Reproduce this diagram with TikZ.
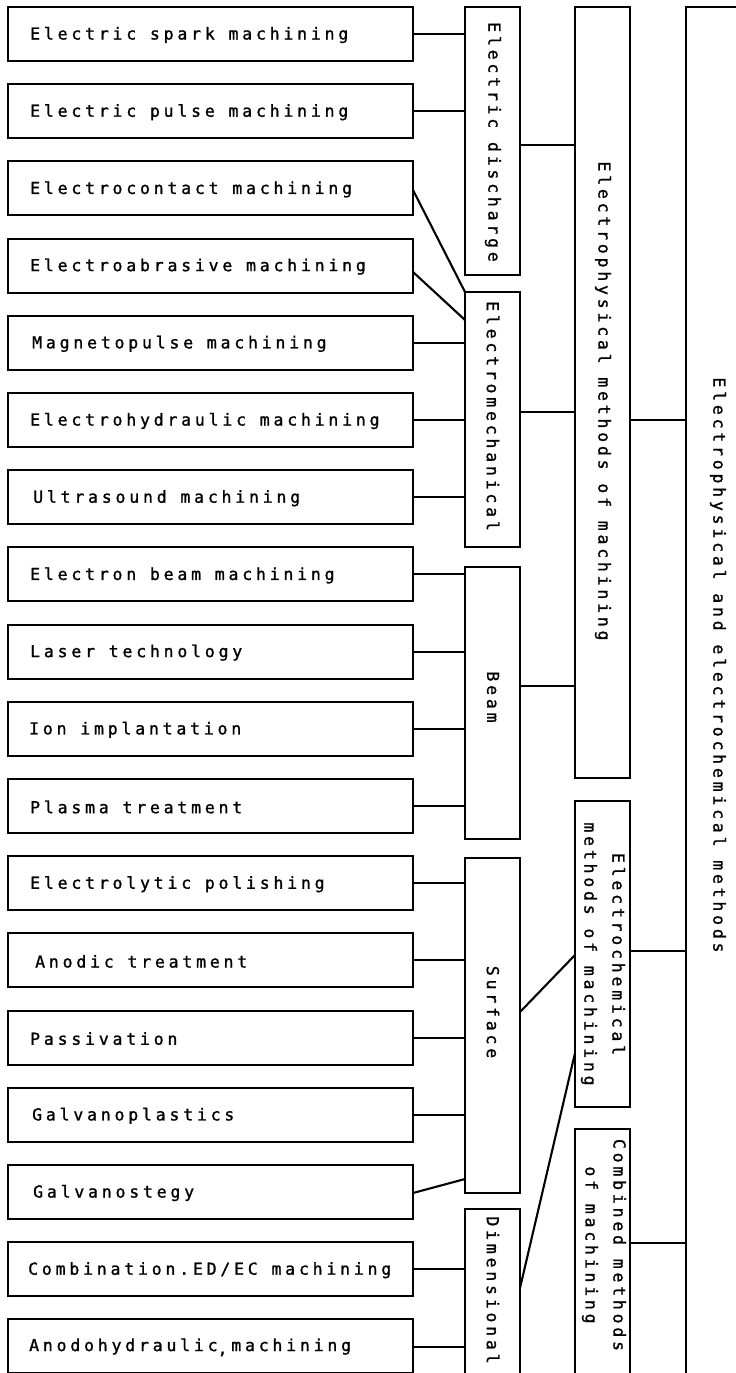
\documentclass[tikz,border=0pt]{standalone}
\usepackage{fontspec}
\newfontfamily\plotfont[LetterSpace=23,FakeBold=1.2]{DejaVu Sans Mono}
\usetikzlibrary{calc}
\begin{document}
\begin{tikzpicture}[x=1pt,y=-1pt,
  box/.style={draw, line width=2.1pt, inner sep=0pt, outer sep=0pt, anchor=north west},
  lbox/.style={box, minimum width=405pt, minimum height=54pt},
  mbox/.style={box, minimum width=55pt},
  ltext/.style={anchor=west, inner sep=0pt, font=\plotfont\fontsize{16.5pt}{28pt}\selectfont},
  vtext/.style={rotate=-90, inner sep=0pt, align=center, font=\plotfont\fontsize{16.5pt}{28pt}\selectfont},
  conn/.style={line width=2.1pt}]
\useasboundingbox (0,0) rectangle (736,1373);
\clip (0,0) rectangle (736,1373);
\fill[white] (0,0) rectangle (736,1373);
% left boxes
\node[lbox] (b1)  at (8,7)      {};
\node[lbox] (b2)  at (8,84.2)   {};
\node[lbox] (b3)  at (8,161.4)  {};
\node[lbox] (b4)  at (8,238.6)  {};
\node[lbox] (b5)  at (8,315.8)  {};
\node[lbox] (b6)  at (8,393)    {};
\node[lbox] (b7)  at (8,470.2)  {};
\node[lbox] (b8)  at (8,547.4)  {};
\node[lbox] (b9)  at (8,624.6)  {};
\node[lbox] (b10) at (8,701.8)  {};
\node[lbox] (b11) at (8,779)    {};
\node[lbox] (b12) at (8,856.2)  {};
\node[lbox] (b13) at (8,933.4)  {};
\node[lbox] (b14) at (8,1010.6) {};
\node[lbox] (b15) at (8,1087.8) {};
\node[lbox] (b16) at (8,1165)   {};
\node[lbox] (b17) at (8,1242.2) {};
\node[lbox] (b18) at (8,1319.4) {};
% left texts
\node[ltext] (t1)  at ([xshift=22pt,yshift=-1pt]b1.west)  {Electric spark machining};
\node[ltext] (t2)  at ([xshift=22pt,yshift=-1pt]b2.west)  {Electric pulse machining};
\node[ltext] (t3)  at ([xshift=22pt,yshift=-1pt]b3.west)  {Electrocontact machining};
\node[ltext] (t4)  at ([xshift=22pt,yshift=-1pt]b4.west)  {Electroabrasive machining};
\node[ltext] (t5)  at ([xshift=24pt,yshift=-1pt]b5.west)  {Magnetopulse machining};
\node[ltext] (t6)  at ([xshift=22pt,yshift=-1pt]b6.west)  {Electrohydraulic machining};
\node[ltext] (t7)  at ([xshift=25pt,yshift=-1pt]b7.west)  {Ultrasound machining};
\node[ltext] (t8)  at ([xshift=22pt,yshift=-1pt]b8.west)  {Electron beam machining};
\node[ltext] (t9)  at ([xshift=22pt,yshift=-1pt]b9.west)  {Laser technology};
\node[ltext] (t10) at ([xshift=21pt,yshift=-1pt]b10.west) {Ion implantation};
\node[ltext] (t11) at ([xshift=22pt,yshift=-1pt]b11.west) {Plasma treatment};
\node[ltext] (t12) at ([xshift=22pt,yshift=-1pt]b12.west) {Electrolytic polishing};
\node[ltext] (t13) at ([xshift=27pt,yshift=-1pt]b13.west) {Anodic treatment};
\node[ltext] (t14) at ([xshift=22pt,yshift=-1pt]b14.west) {Passivation};
\node[ltext] (t15) at ([xshift=24pt,yshift=-1pt]b15.west) {Galvanoplastics};
\node[ltext] (t16) at ([xshift=25pt,yshift=-1pt]b16.west) {Galvanostegy};
\node[ltext] (t17) at ([xshift=20pt,yshift=-1pt]b17.west) {Combination.ED/EC machining};
\node[ltext] (t18) at ([xshift=21pt,yshift=-1pt]b18.west) {Anodohydraulic\rlap{\raisebox{-3pt}{,}} machining};
% level 2 boxes
\node[mbox, minimum height=268pt] (ed)   at (465,7)    {};
\node[mbox, minimum height=255pt] (em)   at (465,292)  {};
\node[mbox, minimum height=272pt] (beam) at (465,567)  {};
\node[mbox, minimum height=335pt] (surf) at (465,858)  {};
\node[mbox, minimum height=200pt] (dim)  at (465,1209) {};
\node[vtext] (ted)   at (493,142)  {Electric discharge};
\node[vtext] (tem)   at (493,416)  {Electromechanical};
\node[vtext] (tbeam) at (493,697)  {Beam};
\node[vtext] (tsurf) at (493,1012) {Surface};
\node[vtext] (tdim)  at (493,1290) {Dimensional};
% level 3 boxes
\node[mbox, minimum height=771pt] (ep)   at (575,7)    {};
\node[mbox, minimum height=306pt] (ec)   at (575,801)  {};
\node[mbox, minimum height=280pt] (comb) at (575,1129) {};
\node[vtext] (tep)   at (603,401)  {Electrophysical methods of machining};
\node[vtext] (tec)   at (603,954)  {Electrochemical\\methods of machining};
\node[vtext] (tcomb) at (604,1245) {Combined methods\\of machining};
% level 4 box
\node[box, minimum width=80pt, minimum height=1400pt] (all) at (686,7) {};
\node[vtext] (tall) at (718,665) {Electrophysical and electrochemical methods};
% connectors left -> level 2
\draw[conn] (b1.east) -- (b1.east -| ed.west);
\draw[conn] (b2.east) -- (b2.east -| ed.west);
\draw[conn] (b3.east |- 0,190) -- (em.north west);
\draw[conn] (b4.east |- 0,272) -- (em.west |- 0,320);
\draw[conn] (b5.east) -- (b5.east -| em.west);
\draw[conn] (b6.east) -- (b6.east -| em.west);
\draw[conn] (b7.east) -- (b7.east -| em.west);
\draw[conn] (b8.east) -- (b8.east -| beam.west);
\draw[conn] (b9.east) -- (b9.east -| beam.west);
\draw[conn] (b10.east) -- (b10.east -| beam.west);
\draw[conn] (b11.east) -- (b11.east -| beam.west);
\draw[conn] (b12.east) -- (b12.east -| surf.west);
\draw[conn] (b13.east) -- (b13.east -| surf.west);
\draw[conn] (b14.east) -- (b14.east -| surf.west);
\draw[conn] (b15.east) -- (b15.east -| surf.west);
\draw[conn] (b16.east |- 0,1193) -- (surf.west |- 0,1179);
\draw[conn] (b17.east) -- (b17.east -| dim.west);
\draw[conn] (b18.east |- 0,1347) -- (dim.west |- 0,1347);
% level 2 -> level 3
\draw[conn] (ed.east |- 0,145) -- (ep.west |- 0,145);
\draw[conn] (em.east |- 0,412) -- (ep.west |- 0,412);
\draw[conn] (beam.east |- 0,686) -- (ep.west |- 0,686);
\draw[conn] (surf.east |- 0,1012) -- (ec.west |- 0,955);
\draw[conn] (dim.east |- 0,1288) -- (ec.west |- 0,1053);
% level 3 -> level 4
\draw[conn] (ep.east |- 0,420) -- (all.west |- 0,420);
\draw[conn] (ec.east |- 0,951) -- (all.west |- 0,951);
\draw[conn] (comb.east |- 0,1243) -- (all.west |- 0,1243);
\end{tikzpicture}
\end{document}
